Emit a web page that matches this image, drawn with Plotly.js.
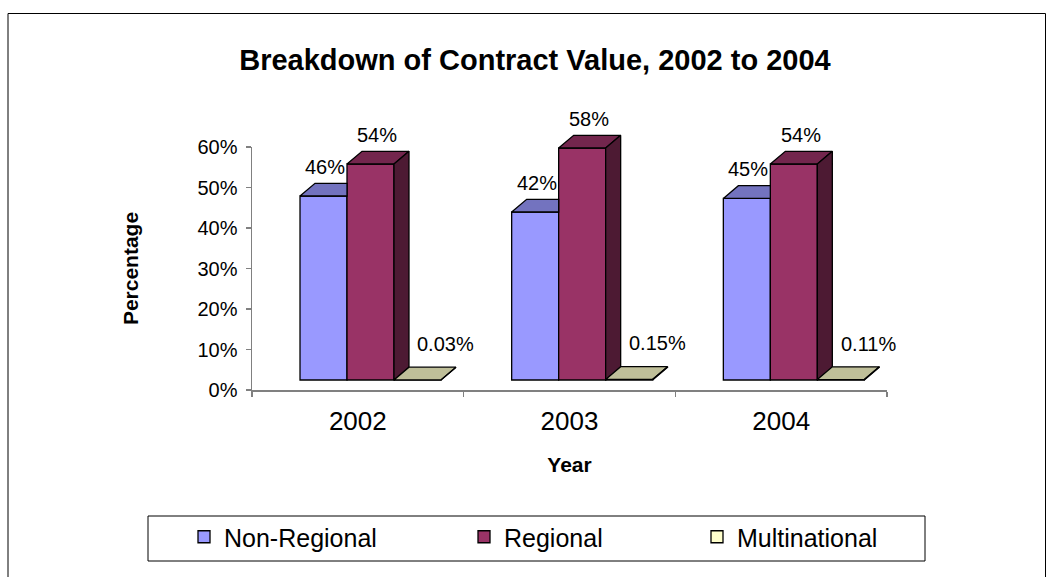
<!DOCTYPE html>
<html><head><meta charset="utf-8">
<script src="https://cdn.plot.ly/plotly-3.0.1.min.js"></script>
<style>html,body{margin:0;padding:0;background:#fff}</style>
</head><body><div id="chart" style="width:1046px;height:577px"></div>
<script>
// ---- data ----
const years = ['2002', '2003', '2004'];
const nonRegional = [0.46, 0.42, 0.454];
const regional = [0.54, 0.58, 0.54];
const multinational = [0.0003, 0.0015, 0.0011];
const seriesNames = ['Non-Regional', 'Regional', 'Multinational'];
const yTickVals = [0, 0.1, 0.2, 0.3, 0.4, 0.5, 0.6];

// ---- style ----
const FONT = 'Liberation Sans, Arial, sans-serif';
const frontColors = ['#9999FF', '#993366', '#FFFFCC'];
const topColors = ['#7373BF', '#73264D', '#BFBF99'];
const sideColors = ['#4D4D80', '#4D1A33', '#80806A'];
const W = 0.222;      // bar width (category units)
const DX = 0.0709;    // 3D depth, x (category units)
const DY = 0.03175;   // 3D depth, y (value units)
const labelShift = [{x: 1.5, y: 29}, {x: 7, y: 29}, {x: 28, y: 36}];
const legendNames = ['legend', 'legend2', 'legend3'];
const legendLeftPx = [184, 464, 697];

const series = [nonRegional, regional, multinational];
const xIdx = years.map((_, i) => i);
const fmt = v => v < 0.01 ? (v * 100).toFixed(2) + '%' : Math.round(v * 100) + '%';

const traces = [];
// carrier trace for the visible category/percentage axes (invisible)
traces.push({type: 'scatter', mode: 'markers', x: xIdx, y: regional, xaxis: 'x', yaxis: 'y',
  marker: {opacity: 0}, showlegend: false, hoverinfo: 'skip'});
// front faces: real bars
series.forEach((vals, s) => {
  traces.push({
    type: 'bar', name: seriesNames[s], x: xIdx, y: vals,
    xaxis: 'x2', yaxis: 'y2', width: W, offset: (s - 1.5) * W,
    marker: {color: frontColors[s], line: {color: '#000', width: 1.3}},
    legend: legendNames[s], hoverinfo: 'skip'
  });
});
// top and side faces of the 3D columns
series.forEach((vals, s) => {
  const tx = [], ty = [], sx = [], sy = [];
  vals.forEach((v, i) => {
    const left = i + (s - 1.5) * W, right = left + W;
    const next = s < series.length - 1 ? series[s + 1][i] : -1;
    if (next >= v) {
      tx.push(left, right, right, left + DX, left, null);
      ty.push(v, v, v + DY, v + DY, v, null);
    } else {
      tx.push(left, right, right + DX, left + DX, left, null);
      ty.push(v, v, v + DY, v + DY, v, null);
      sx.push(right, right, right + DX, right + DX, right, null);
      sy.push(0, v, v + DY, DY, 0, null);
    }
  });
  traces.push({type: 'scatter', mode: 'lines', x: tx, y: ty, xaxis: 'x2', yaxis: 'y2',
    fill: 'toself', fillcolor: topColors[s], line: {color: '#000', width: 1.3},
    showlegend: false, hoverinfo: 'skip'});
  if (sx.length) traces.push({type: 'scatter', mode: 'lines', x: sx, y: sy, xaxis: 'x2', yaxis: 'y2',
    fill: 'toself', fillcolor: sideColors[s], line: {color: '#000', width: 1.3},
    showlegend: false, hoverinfo: 'skip'});
});

const annotations = [];
series.forEach((vals, s) => vals.forEach((v, i) => {
  annotations.push({xref: 'x2', yref: 'y2', x: i + (s - 1) * W, y: v, text: fmt(v),
    showarrow: false, xshift: labelShift[s].x, yshift: labelShift[s].y,
    xanchor: 'center', yanchor: 'middle', font: {family: FONT, size: 20, color: '#000'}});
}));

// plot area: x 252..887, y 100..390
const px2x = p => (p - 252) / 635, px2y = p => (390 - p) / 290;

const legendBase = {orientation: 'h', xanchor: 'left', y: px2y(537), yanchor: 'middle',
  font: {size: 25, family: FONT, color: '#000'}, bgcolor: 'rgba(0,0,0,0)', borderwidth: 0, itemwidth: 30};

const layout = {
  width: 1046, height: 577,
  margin: {l: 252, r: 159, t: 100, b: 187, pad: 0},
  paper_bgcolor: '#fff', plot_bgcolor: 'rgba(0,0,0,0)',
  font: {family: FONT, color: '#000'},
  barmode: 'overlay', showlegend: true,
  title: {text: 'Breakdown of Contract Value, 2002 to 2004',
    font: {family: FONT, size: 29, weight: 700, color: '#000'},
    xref: 'container', x: 535 / 1046, xanchor: 'center',
    yref: 'container', y: 1 - 60 / 577, yanchor: 'middle'},
  xaxis: {domain: [0, 1], anchor: 'y', range: [-0.5, 2.5], tickvals: xIdx, ticktext: years, ticks: '',
    showline: true, linecolor: '#808080', linewidth: 1.5, showgrid: false, zeroline: false,
    tickfont: {size: 26, family: FONT, color: '#000'}, ticklabelstandoff: 7,
    minor: {ticks: 'outside', tick0: -0.5, dtick: 1, ticklen: 5, tickcolor: '#808080', tickwidth: 1.5, showgrid: false},
    title: {text: 'Year', font: {size: 21, weight: 700, family: FONT, color: '#000'}, standoff: 22},
    fixedrange: true},
  yaxis: {domain: [0, 243 / 290], anchor: 'x', range: [0, 0.6], tickvals: yTickVals, tickformat: '.0%',
    ticks: 'outside', ticklen: 5, tickcolor: '#808080', tickwidth: 1.5,
    showline: true, linecolor: '#808080', linewidth: 1.5,
    showgrid: false, zeroline: false, tickfont: {size: 20, family: FONT, color: '#000'}, ticklabelstandoff: 4,
    title: {text: 'Percentage', font: {size: 21, weight: 700, family: FONT, color: '#000'}, standoff: 53},
    fixedrange: true},
  xaxis2: {domain: [0, 1], anchor: 'y2', range: [-0.5598, 2.4402], visible: false, fixedrange: true},
  yaxis2: {domain: [0, 1], anchor: 'x2', range: [-0.025, 0.7], visible: false, fixedrange: true},
  legend: Object.assign({x: px2x(legendLeftPx[0])}, legendBase),
  legend2: Object.assign({x: px2x(legendLeftPx[1])}, legendBase),
  legend3: Object.assign({x: px2x(legendLeftPx[2])}, legendBase),
  annotations: annotations,
  shapes: [
    {type: 'rect', xref: 'paper', yref: 'paper', x0: px2x(8), x1: px2x(1045.5), y0: px2y(600), y1: px2y(13.5),
      line: {color: '#000', width: 1}, fillcolor: 'rgba(0,0,0,0)', layer: 'below'},
    {type: 'rect', xref: 'paper', yref: 'paper', x0: px2x(148), x1: px2x(925), y0: px2y(561), y1: px2y(516),
      line: {color: '#000', width: 1}, fillcolor: 'rgba(0,0,0,0)', layer: 'below'}
  ]
};

Plotly.newPlot('chart', traces, layout, {displayModeBar: false, staticPlot: true});
</script>
</body></html>
